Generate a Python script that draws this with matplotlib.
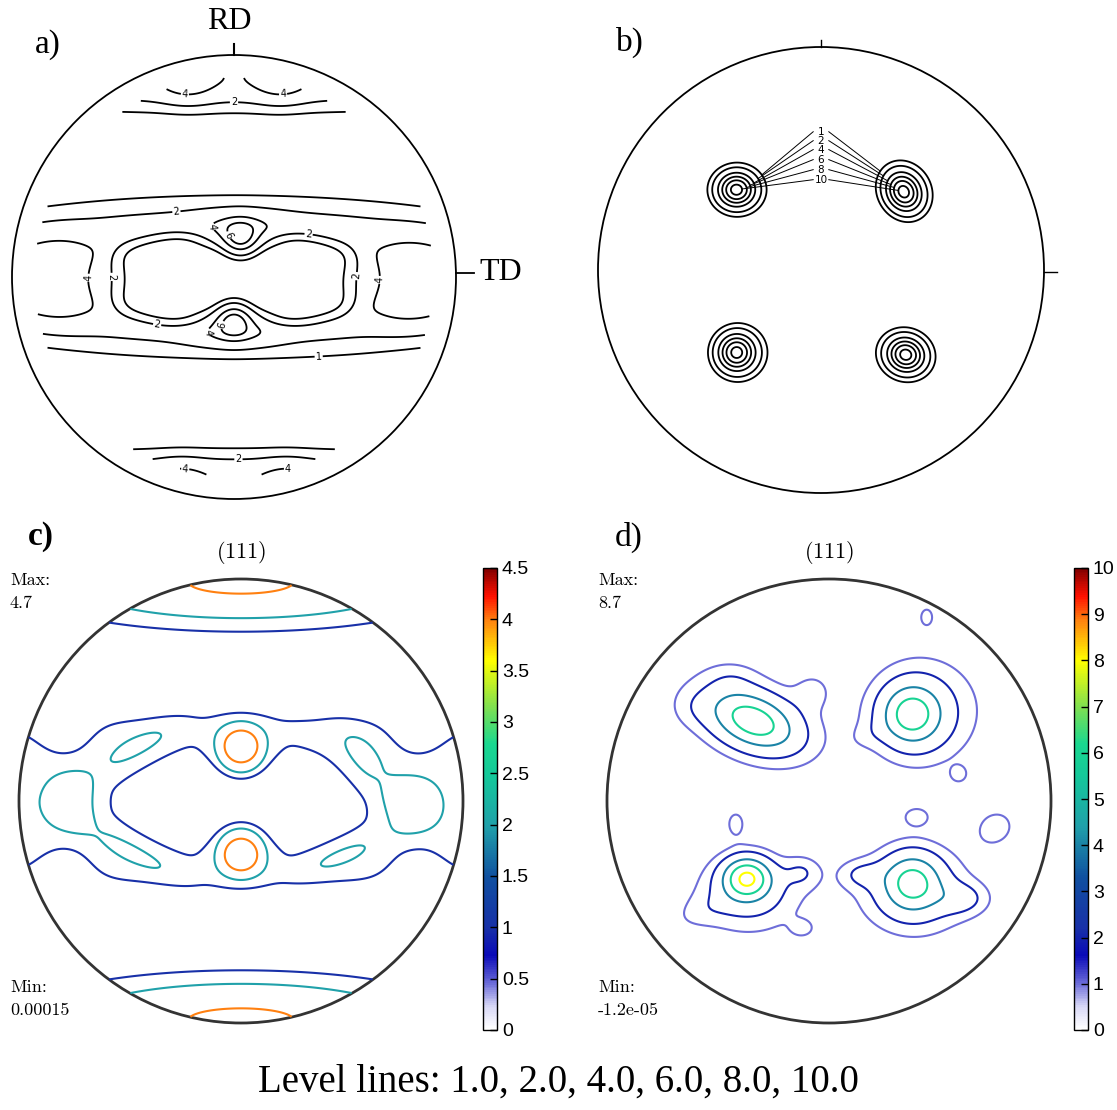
import numpy as np
import matplotlib
matplotlib.use("Agg")
import matplotlib.pyplot as plt
from matplotlib.colors import LinearSegmentedColormap, Normalize
from matplotlib.patches import Circle
from matplotlib.cm import ScalarMappable
from matplotlib.ticker import FuncFormatter

plt.rcParams['mathtext.fontset'] = 'cm'

FIG_W, FIG_H = 1117, 1110
LEVELS = [1, 2, 4, 6, 8, 10]
LEVEL_NOTE = "Level lines: 1.0, 2.0, 4.0, 6.0, 8.0, 10.0"

# ---------------- panel a: measured (111) pole figure, rolled sheet
# density components: centre, widths, amplitude, profile exponent, tilt (deg)
a_x0 = [0.0, 0.0, 0.02, 0.03, 0.0, 0.0, -0.8, 0.8, 0.0, 0.0, -0.21, 0.21, -0.24, 0.24]
a_y0 = [0.0, -0.01, 0.2, 0.17, -0.22, -0.19, -0.01, -0.02, 0.9, -0.935, 0.9, 0.9, -0.95, -0.95]
a_sx = [1.5, 0.63, 0.12, 0.05, 0.12, 0.05, 0.24, 0.24, 1.2, 1.2, 0.08, 0.08, 0.08, 0.08]
a_sy = [0.33, 0.21, 0.05, 0.05, 0.05, 0.05, 0.17, 0.17, 0.1, 0.1, 0.07, 0.07, 0.07, 0.07]
a_amp = [2.6, -2.4, 3.5, 4.0, 3.5, 4.0, 2.7, 2.7, 3.7, 3.8, 2.4, 2.4, 2.4, 2.4]
a_shape = [6, 10, 2, 2, 2, 2, 4, 4, 2, 2, 2, 2, 2, 2]
a_tilt = [0] * 14
a_label_at = [(-0.22, 0.84), (0.22, 0.84), (0.0, 0.79), (-0.22, -0.87), (0.26, -0.87),
              (0.02, -0.83), (-0.26, 0.3), (0.34, 0.23), (-0.35, -0.24), (0.38, -0.33),
              (-0.74, 0.0), (0.76, -0.02), (-0.57, 0.0), (0.6, 0.0),
              (-0.12, 0.22), (-0.02, 0.19), (-0.13, -0.25), (-0.04, -0.22)]

# ---------------- panel b: measured (111) pole figure, cube-type texture
b_x0 = [-0.38, -0.37, 0.37, 0.38, -0.38, -0.36, 0.38, 0.38]
b_y0 = [0.36, 0.36, 0.35, 0.36, -0.37, -0.37, -0.38, -0.38]
b_sx = [0.055, 0.08, 0.05, 0.075, 0.055, 0.08, 0.055, 0.085]
b_sy = [0.05, 0.075, 0.06, 0.085, 0.055, 0.08, 0.05, 0.075]
b_amp = [9.0, 2.0, 9.0, 2.0, 9.0, 2.0, 9.0, 2.0]
b_shape = [2, 2, 2, 2, 2, 2, 2, 2]
b_tilt = [0, 0, 30, 30, 0, 0, -20, -20]
b_label_y = [0.62, 0.58, 0.54, 0.495, 0.45, 0.405]

# ---------------- panel c: simulated (111) pole figure
c_x0 = [0.0, 0.0, 0.0, 0.0, 0.0, 0.0, 0.0, 0.0,
        -0.76, -0.5, -0.47, 0.76, 0.56, 0.45,
        -0.8, 0.8, -0.8, 0.8]
c_y0 = [0.985, -0.985, 0.0, 0.0, 0.235, 0.235, -0.23, -0.23,
        0.0, -0.22, 0.235, -0.02, 0.17, -0.245,
        0.33, 0.33, -0.33, -0.33]
c_sx = [0.6, 0.6, 2.0, 0.553, 0.085, 0.14, 0.085, 0.14,
        0.11, 0.2, 0.165, 0.12, 0.127, 0.133,
        0.1, 0.1, 0.1, 0.1]
c_sy = [0.13, 0.13, 0.363, 0.245, 0.085, 0.14, 0.085, 0.14,
        0.125, 0.045, 0.05, 0.125, 0.063, 0.038,
        0.1, 0.1, 0.1, 0.1]
c_amp = [4.32, 4.32, 1.8, -1.6, 3.0, 1.0, 3.0, 1.0,
         0.9, 0.9, 0.9, 0.9, 1.0, 0.9,
         -1.4, -1.4, -1.4, -1.4]
c_shape = [2, 2, 8, 4, 4, 4, 4, 4,
           4, 2, 2, 4, 2, 2,
           2, 2, 2, 2]
c_tilt = [0, 0, 0, 0, 0, 0, 0, 0,
          0, -28, 30, 0, -53, 23,
          0, 0, 0, 0]
c_range = (0.0, 4.5)
c_max, c_min = "4.7", "0.00015"

# ---------------- panel d: simulated (111) pole figure
d_x0 = [-0.34, -0.35, -0.07, -0.62, -0.44,
        0.37, 0.41, 0.47, 0.18,
        -0.37, -0.36, -0.38, -0.12, -0.58,
        0.375, 0.38, 0.42, 0.14, 0.60,
        0.44, 0.585, 0.395, 0.75, -0.42, -0.12]
d_y0 = [0.36, 0.37, 0.50, 0.42, 0.56,
        0.39, 0.40, 0.41, 0.30,
        -0.345, -0.42, -0.44, -0.32, -0.50,
        -0.365, -0.40, -0.44, -0.33, -0.44,
        0.83, 0.12, -0.07, -0.12, -0.10, -0.575]
d_sx = [0.14, 0.23, 0.06, 0.07, 0.08,
        0.09, 0.17, 0.20, 0.07,
        0.075, 0.16, 0.22, 0.06, 0.10,
        0.09, 0.17, 0.24, 0.07, 0.08,
        0.028, 0.028, 0.049, 0.08, 0.035, 0.04]
d_sy = [0.08, 0.14, 0.06, 0.06, 0.05,
        0.09, 0.17, 0.17, 0.04,
        0.065, 0.12, 0.13, 0.05, 0.05,
        0.09, 0.14, 0.15, 0.045, 0.05,
        0.039, 0.028, 0.035, 0.07, 0.049, 0.03]
d_amp = [5.3, 2.0, 1.0, 0.5, 0.6,
         5.0, 2.1, 0.5, 0.45,
         6.6, 2.0, 0.5, 1.5, 0.7,
         4.8, 2.0, 0.5, 1.5, 1.8,
         1.3, 1.3, 1.3, 1.35, 1.3, 1.1]
d_shape = [2] * 25
d_tilt = [-22, -22, 0, 0, 0,
          0, 15, 10, 20,
          0, 0, 0, 0, 20,
          0, 0, 0, 0, 0,
          0, 0, 0, 30, 0, 0]
d_range = (0.0, 10.0)
d_max, d_min = "8.7", "-1.2e-05"

# white-to-jet colour scale used for the simulated figures
cmap_stops = [0.0, 0.05, 0.10, 0.16, 0.22, 0.33, 0.44, 0.55, 0.62, 0.70, 0.80, 0.89, 0.94, 1.0]
cmap_colors = ["#ffffff", "#d8d8f6", "#6a6ad8", "#0a0ab8", "#1830a8", "#1050a0",
               "#20a0aa", "#14c89a", "#1ad890", "#80e050", "#ffff00", "#ff8010",
               "#ff1000", "#800000"]
white_jet = LinearSegmentedColormap.from_list("white_jet", list(zip(cmap_stops, cmap_colors)))

n = 601
gx = np.linspace(-1, 1, n)
GX, GY = np.meshgrid(gx, gx)
GR = np.hypot(GX, GY)


def density(x0, y0, sx, sy, amp, shape, tilt, rmax):
    z = np.zeros_like(GX)
    for cx, cy, wx, wy, a, p, t in zip(x0, y0, sx, sy, amp, shape, tilt):
        th = np.deg2rad(t)
        dx, dy = GX - cx, GY - cy
        u = (dx * np.cos(th) + dy * np.sin(th)) / wx
        v = (-dx * np.sin(th) + dy * np.cos(th)) / wy
        z += a * np.exp(-0.5 * (u * u + v * v) ** (p / 2.0))
    return np.where(GR <= rmax, z, np.nan)


def disk_axes(fig, cx, cy, r):
    ax = fig.add_axes([(cx - r) / FIG_W, (FIG_H - cy - r) / FIG_H, 2 * r / FIG_W, 2 * r / FIG_H])
    ax.set_xlim(-1, 1)
    ax.set_ylim(-1, 1)
    ax.set_aspect('auto')
    ax.axis('off')
    return ax


def fig_text(fig, x, y, s, **kw):
    fig.text(x / FIG_W, 1 - y / FIG_H, s, **kw)


fig = plt.figure(figsize=(FIG_W / 100, FIG_H / 100), dpi=100)
serif = ['Liberation Serif', 'DejaVu Serif']

# ---------- a
ax = disk_axes(fig, 234, 277, 222)
za = density(a_x0, a_y0, a_sx, a_sy, a_amp, a_shape, a_tilt, 0.9)
cs = ax.contour(GX, GY, za, levels=LEVELS[:5], colors='black', linewidths=1.3)
ax.clabel(cs, fmt='%d', fontsize=7, inline=True, inline_spacing=1, manual=a_label_at)
ax.add_patch(Circle((0, 0), 1, fill=False, ec='black', lw=1.3, clip_on=False))
ax.plot([0, 0], [1.0, 1.05], color='black', lw=1.5, clip_on=False)
ax.plot([1.0, 1.08], [0.02, 0.02], color='black', lw=1.3, clip_on=False)
ax.text(-0.02, 1.15, "RD", fontsize=23, family=serif, ha='center', va='center')
ax.text(1.20, 0.02, "TD", fontsize=23, family=serif, ha='center', va='center')
fig_text(fig, 48, 45, "a)", fontsize=24, family=serif, ha='center', va='center')

# ---------- b
ax = disk_axes(fig, 821, 270, 223)
zb = density(b_x0, b_y0, b_sx, b_sy, b_amp, b_shape, b_tilt, 1.0)
cs = ax.contour(GX, GY, zb, levels=LEVELS, colors='black', linewidths=1.3)
for lev, ly, segs in zip(LEVELS, b_label_y, cs.allsegs):
    ax.text(0.0, ly, str(lev), fontsize=7.5, ha='center', va='center')
    pts = np.concatenate([s for s in segs if len(s)])
    for side in (-1, 1):
        p = pts[pts[:, 0] * side > 0]
        p = p[p[:, 1] > 0]
        k = np.argmin(np.hypot(p[:, 0], p[:, 1] - ly))
        ax.plot([side * 0.035, p[k, 0]], [ly, p[k, 1]], color='black', lw=0.7)
ax.add_patch(Circle((0, 0), 1, fill=False, ec='black', lw=1.3, clip_on=False))
ax.plot([0, 0], [1.0, 1.03], color='black', lw=1.0, clip_on=False)
ax.plot([1.0, 1.06], [-0.01, -0.01], color='black', lw=1.0, clip_on=False)
fig_text(fig, 630, 42, "b)", fontsize=24, family=serif, ha='center', va='center')


# ---------- c, d
def simulated(cx, zval, vrange, max_s, min_s, label, label_weight, cb_x):
    ax = disk_axes(fig, cx, 801, 222)
    norm = Normalize(*vrange)
    ax.contour(GX, GY, zval, levels=LEVELS, cmap=white_jet, norm=norm, linewidths=1.5)
    ax.add_patch(Circle((0, 0), 1, fill=False, ec='#333333', lw=2.0, clip_on=False))
    fig_text(fig, cx, 552, r'$(\mathbf{111})$', fontsize=16, ha='center', va='center')
    fig_text(fig, cx - 231, 580, "Max:", fontsize=13, family='cmr10', ha='left', va='center')
    fig_text(fig, cx - 231, 603, max_s, fontsize=13, family='cmr10', ha='left', va='center')
    fig_text(fig, cx - 231, 987, "Min:", fontsize=13, family='cmr10', ha='left', va='center')
    fig_text(fig, cx - 231, 1010, min_s, fontsize=13, family='cmr10', ha='left', va='center')
    fig_text(fig, cx - 200, 537, label, fontsize=24, family=serif, fontweight=label_weight,
             ha='center', va='center')
    cax = fig.add_axes([cb_x / FIG_W, (FIG_H - 1030) / FIG_H, 14 / FIG_W, 462 / FIG_H])
    cb = fig.colorbar(ScalarMappable(norm=norm, cmap=white_jet), cax=cax)
    step = 0.5 if vrange[1] < 5 else 1.0
    cb.set_ticks(np.arange(vrange[0], vrange[1] + 1e-9, step))
    cb.ax.yaxis.set_major_formatter(FuncFormatter(lambda v, _: f"{v:g}"))
    cb.ax.tick_params(direction='in', length=5, width=1, labelsize=14)
    for t in cb.ax.get_yticklabels():
        t.set_family(['Liberation Sans', 'DejaVu Sans'])
    cb.outline.set_linewidth(1.0)


simulated(241, density(c_x0, c_y0, c_sx, c_sy, c_amp, c_shape, c_tilt, 1.0),
          c_range, c_max, c_min, "c)", 'bold', 483)
simulated(829, density(d_x0, d_y0, d_sx, d_sy, d_amp, d_shape, d_tilt, 1.0),
          d_range, d_max, d_min, "d)", 'normal', 1074)

fig_text(fig, 558, 1082, LEVEL_NOTE, fontsize=28, family=serif, ha='center', va='center')

fig.savefig("out.png", dpi=100)
